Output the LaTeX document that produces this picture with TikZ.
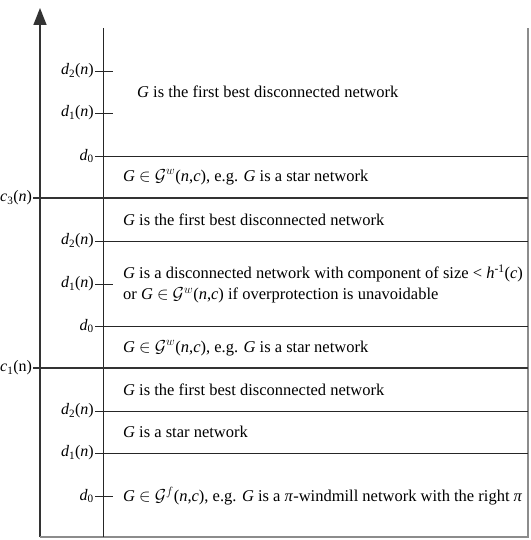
\documentclass[tikz,border=0pt]{standalone}
\usepackage{fontspec}
\setmainfont{Liberation Serif}
\usetikzlibrary{arrows.meta}
\newcommand\iG{\textit{G}}
\newcommand\calG{$\mathcal{G}$}
\newcommand\nc{(\textit{n},\textit{c})}
\begin{document}
\begin{tikzpicture}[x=1pt,y=-1pt,
  lab/.style={anchor=east, inner sep=1pt, font=\fontsize{16}{19}\selectfont},
  txt/.style={anchor=west, inner sep=0pt, font=\fontsize{16.5}{21}\selectfont, align=left},
  thinline/.style={line width=0.7pt, draw=black!85},
  thickline/.style={line width=1.5pt, draw=black!80},
  frameline/.style={line width=1.8pt, draw=black!45},
]
\useasboundingbox (0,0) rectangle (530,540);
% axis and frame
\coordinate (axb) at (40,537);
\coordinate (axt) at (40,8);
\coordinate (br) at (528,537);
\coordinate (tr) at (528,28);
\coordinate (it) at (103,28);
\coordinate (ib) at (103,537);
\draw[thickline, -{Triangle[length=17pt,width=13pt]}] (axb) -- (axt);
\draw[frameline] (axb) -- (br) -- (tr);
\draw[thinline] (it) -- (ib);

% labels
\node[lab] (d2a) at (95,71) {\textit{d}\textsubscript{2}(\textit{n})};
\node[lab] (d1a) at (95,113) {\textit{d}\textsubscript{1}(\textit{n})};
\node[lab] (d0a) at (95,156) {\textit{d}\textsubscript{0}};
\node[lab, anchor=west] (c3) at (-1,198) {\textit{c}\textsubscript{3}(\textit{n})};
\node[lab] (d2b) at (95,241) {\textit{d}\textsubscript{2}(\textit{n})};
\node[lab] (d1b) at (95,284) {\textit{d}\textsubscript{1}(\textit{n})};
\node[lab] (d0b) at (95,326) {\textit{d}\textsubscript{0}};
\node[lab, anchor=west] (c1) at (-1,368) {\textit{c}\textsubscript{1}(n)};
\node[lab] (d2c) at (95,411) {\textit{d}\textsubscript{2}(\textit{n})};
\node[lab] (d1c) at (95,453) {\textit{d}\textsubscript{1}(\textit{n})};
\node[lab] (d0c) at (95,496) {\textit{d}\textsubscript{0}};

% ticks and lines
\draw[thinline] (d2a.east) -- ++(18,0);
\draw[thinline] (d1a.east) -- ++(18,0);
\draw[thinline] (d0a.east) -- (d0a.east -| br);
\draw[thickline] (c3.east) -- (c3.east -| br);
\draw[thinline] (d2b.east) -- (d2b.east -| br);
\draw[thinline] (d1b.east) -- ++(18,0);
\draw[thinline] (d0b.east) -- (d0b.east -| br);
\draw[thickline] (c1.east) -- (c1.east -| br);
\draw[thinline] (d2c.east) -- (d2c.east -| br);
\draw[thinline] (d1c.east) -- (d1c.east -| br);
\draw[thinline] (d0c.east) -- ++(18,0);

% texts
\node[txt] (t1) at (137,92) {\iG{} is the first best disconnected network};
\node[txt] (t2) at (123,177) {\iG{} $\in$ \calG$^{w}$\nc, e.g. \iG{} is a star network};
\node[txt] (t3) at (123,220) {\iG{} is the first best disconnected network};
\node[txt] (t4) at (123,284) {\iG{} is a disconnected network with component of size < \textit{h}\textsuperscript{-1}(\textit{c})\\or \iG{} $\in$ \calG$^{w}$\nc{} if overprotection is unavoidable};
\node[txt] (t5) at (123,348) {\iG{} $\in$ \calG$^{w}$\nc, e.g. \iG{} is a star network};
\node[txt] (t6) at (123,390) {\iG{} is the first best disconnected network};
\node[txt] (t7) at (123,432) {\iG{} is a star network};
\node[txt] (t8) at (123,496) {\iG{} $\in$ \calG$^{f}$\nc, e.g. \iG{} is a \textit{π}-windmill network with the right \textit{π}};
\end{tikzpicture}
\end{document}
